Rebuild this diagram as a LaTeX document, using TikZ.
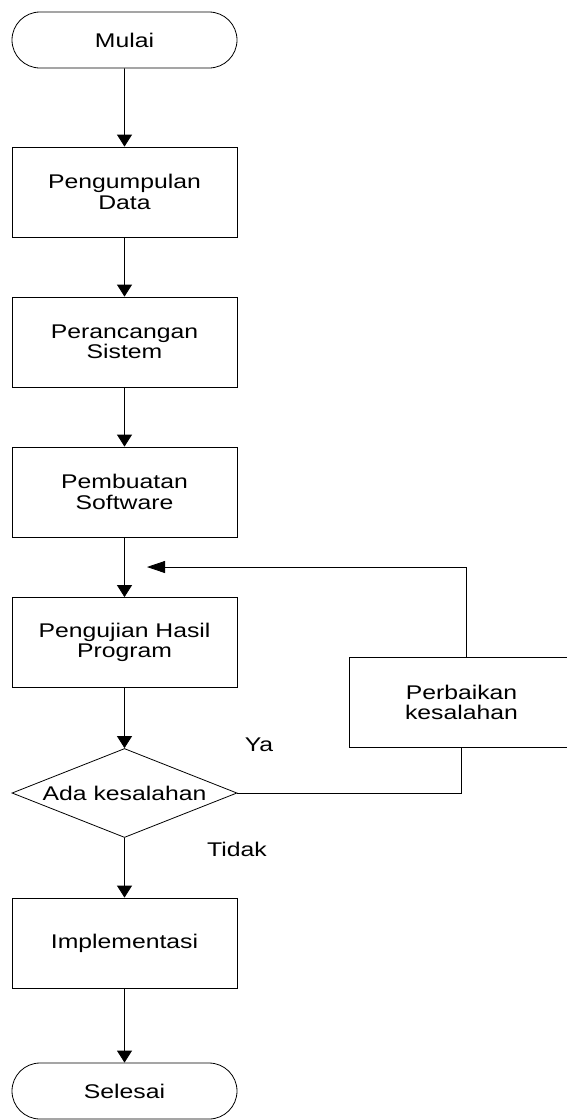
\documentclass[tikz,border=0pt]{standalone}
\usepackage{fontspec}
\setmainfont{Liberation Sans}[FakeStretch=1.25]
\usepackage{tikz}
\usetikzlibrary{arrows.meta, positioning, shapes.geometric, shapes.misc}

\begin{document}
\begin{tikzpicture}[x=0.5pt, y=-0.5pt,
    font=\fontsize{9.9pt}{10.2pt}\selectfont,
    proses/.style={draw, thin, rectangle, minimum width=112.5pt, minimum height=45pt, align=center, inner sep=0pt},
    terminal/.style={draw, thin, rounded rectangle, minimum width=112.5pt, minimum height=28pt, inner sep=0pt},
    keputusan/.style={draw, thin, diamond, aspect=2.53, minimum width=112.5pt, minimum height=44.5pt, inner sep=0pt},
    alur/.style={-{Triangle[length=6pt, width=7.5pt]}, thin},
    garis/.style={thin}]
    \useasboundingbox (0,0) rectangle (567,1120);

    % alur utama
    \node[terminal] (mulai) at (124.5, 40) {Mulai};
    \node[proses] (data) at (124.5, 192) {Pengumpulan\\Data};
    \node[proses] (rancang) at (124.5, 342) {Perancangan\\Sistem};
    \node[proses] (buat) at (124.5, 492) {Pembuatan\\Software};
    \node[proses] (uji) at (124.5, 642.5) {Pengujian Hasil\\Program};
    \node[keputusan] (ada) at (124.5, 793) {Ada kesalahan};
    \node[proses] (impl) at (124.5, 943) {Implementasi};
    \node[terminal] (selesai) at (124.5, 1091) {Selesai};

    % perbaikan
    \node[proses] (perbaikan) at (461.5, 702.5) {Perbaikan\\kesalahan};
    \coordinate (balik) at (147, 567);

    \draw[alur] (mulai) -- (data);
    \draw[alur] (data) -- (rancang);
    \draw[alur] (rancang) -- (buat);
    \draw[alur] (buat) -- (uji);
    \draw[alur] (uji) -- (ada);
    \draw[alur] (ada) -- (impl);
    \draw[alur] (impl) -- (selesai);

    % kembali ke pengujian
    \draw[garis] (ada.east) -| (perbaikan.south);
    \draw[-{Triangle[length=9pt, width=6pt]}, thin] ([xshift=2.5pt]perbaikan.north) |- (balik);

    % label
    \node (ya) at (259, 745) {Ya};
    \node (tidak) at (237, 849) {Tidak};
\end{tikzpicture}
\end{document}
